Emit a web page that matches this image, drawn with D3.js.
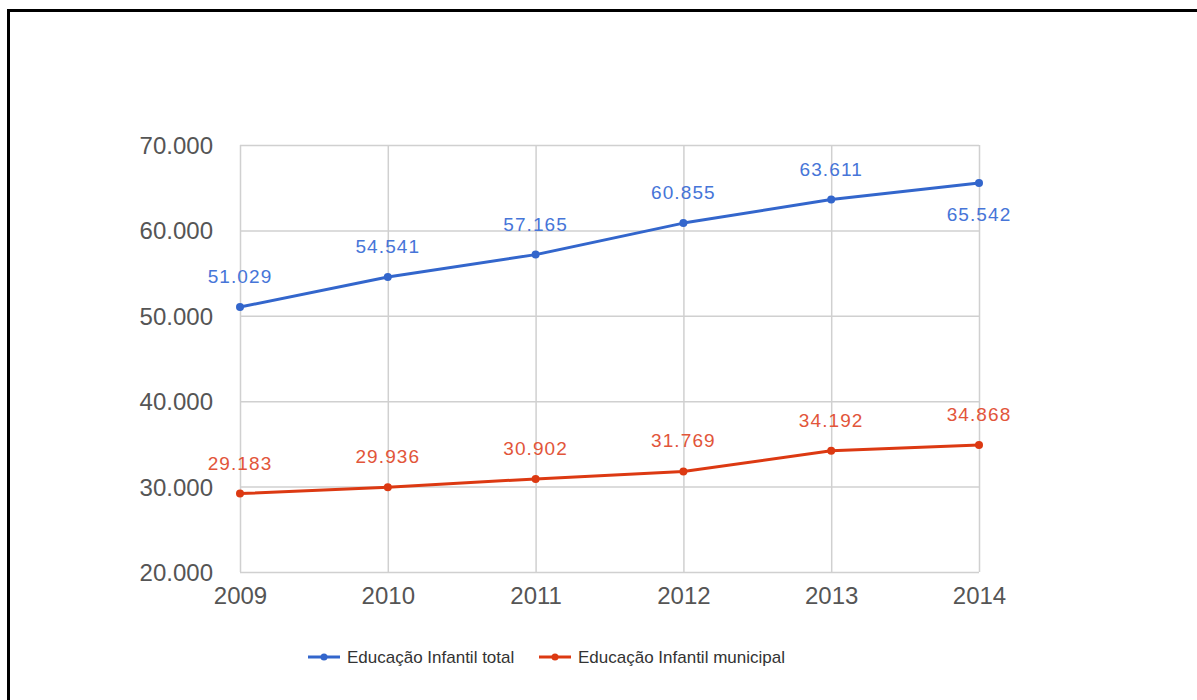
<!DOCTYPE html>
<html>
<head>
<meta charset="utf-8">
<script src="https://cdn.jsdelivr.net/npm/d3@7/dist/d3.min.js"></script>
<style>
  html, body { margin: 0; padding: 0; background: #fff; }
  svg { display: block; font-family: Arial, "Liberation Sans", sans-serif; }
</style>
</head>
<body>
<svg id="chart" width="1197" height="700"></svg>
<script>
// Enrollment in early-childhood education, 2009–2014
const years = ["2009", "2010", "2011", "2012", "2013", "2014"];
const totalValues = [51029, 54541, 57165, 60855, 63611, 65542];
const municipalValues = [29183, 29936, 30902, 31769, 34192, 34868];
const yTicks = [20000, 30000, 40000, 50000, 60000, 70000];
const seriesNames = ["Educação Infantil total", "Educação Infantil municipal"];
const seriesColors = ["#3366cc", "#dc3912"];
const labelColors = ["#4675d8", "#e2553a"];

const series = [
  { name: seriesNames[0], values: totalValues, color: seriesColors[0], label: labelColors[0] },
  { name: seriesNames[1], values: municipalValues, color: seriesColors[1], label: labelColors[1] }
];

const svg = d3.select("#chart");
const plot = { left: 240, right: 979, top: 145, bottom: 572 };

const fmt = v => d3.format(",")(v).replace(/,/g, ".");

const x = d3.scalePoint().domain(years).range([plot.left, plot.right]);
const y = d3.scaleLinear().domain([20000, 70000]).range([plot.bottom, plot.top]);

// frame around the figure
svg.append("line").attr("x1", 8).attr("x2", 1197).attr("y1", 10.5).attr("y2", 10.5)
  .attr("stroke", "#000").attr("stroke-width", 3);
svg.append("line").attr("x1", 8.5).attr("x2", 8.5).attr("y1", 9).attr("y2", 700)
  .attr("stroke", "#000").attr("stroke-width", 3);

// horizontal gridlines + y tick labels
const yAxis = d3.axisLeft(y).tickValues(yTicks).tickFormat(fmt)
  .tickSize(-(plot.right - plot.left)).tickPadding(27);
const gy = svg.append("g").attr("transform", `translate(${plot.left},0)`).call(yAxis);
gy.select(".domain").remove();
gy.selectAll(".tick line").attr("stroke", "#d0d0d0").attr("stroke-width", 1.5);
gy.selectAll(".tick text").attr("fill", "#555").attr("font-size", 24)
  .attr("font-family", "Arial, 'Liberation Sans', sans-serif").attr("dy", "0.35em");

// vertical gridlines + x tick labels
const xAxis = d3.axisBottom(x).tickSize(-(plot.bottom - plot.top)).tickPadding(15);
const gx = svg.append("g").attr("transform", `translate(0,${plot.bottom})`).call(xAxis);
gx.select(".domain").remove();
gx.selectAll(".tick line").attr("stroke", "#d0d0d0").attr("stroke-width", 1.5);
gx.selectAll(".tick text").attr("fill", "#555").attr("font-size", 24)
  .attr("font-family", "Arial, 'Liberation Sans', sans-serif").attr("dy", "0.71em");

// lines, points and value labels
const line = d3.line().x((d, i) => x(years[i])).y(d => y(d));
series.forEach((s, si) => {
  svg.append("path").datum(s.values).attr("d", line)
    .attr("fill", "none").attr("stroke", s.color).attr("stroke-width", 3)
    .attr("stroke-linejoin", "round");
  svg.selectAll(null).data(s.values).enter().append("circle")
    .attr("cx", (d, i) => x(years[i])).attr("cy", d => y(d)).attr("r", 4)
    .attr("fill", s.color);
  svg.selectAll(null).data(s.values).enter().append("text")
    .attr("x", (d, i) => x(years[i]))
    .attr("y", (d, i) => (si === 0 && i === years.length - 1) ? y(d) + 38 : y(d) - 24)
    .attr("text-anchor", "middle")
    .attr("font-size", 19).attr("letter-spacing", "1.1px")
    .attr("fill", s.label)
    .text(d => fmt(d));
});

// legend
const legend = svg.append("g").attr("transform", "translate(0,657)");
const legendX = [308, 539];
series.forEach((s, i) => {
  const g = legend.append("g").attr("transform", `translate(${legendX[i]},0)`);
  g.append("line").attr("x1", 0).attr("x2", 32).attr("y1", 0).attr("y2", 0)
    .attr("stroke", s.color).attr("stroke-width", 3);
  g.append("circle").attr("cx", 16).attr("cy", 0).attr("r", 3.5).attr("fill", s.color);
  g.append("text").attr("x", 39).attr("y", 0).attr("dy", "0.35em")
    .attr("font-size", 17).attr("fill", "#333")
    .text(s.name);
});
</script>
</body>
</html>
